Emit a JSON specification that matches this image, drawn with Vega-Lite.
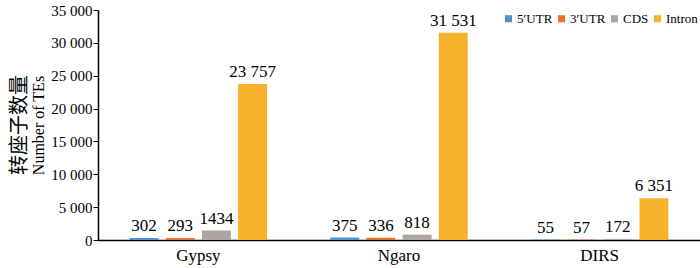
{
  "$schema": "https://vega.github.io/schema/vega-lite/v6.json",
  "width": 602,
  "height": 230,
  "autosize": "none",
  "padding": {"left": 98, "top": 10, "right": 0, "bottom": 28},
  "background": "white",
  "title": {"text": "转座子数量", "orient": "left", "anchor": "middle", "fontSize": 20, "font": "Noto Sans CJK SC", "fontWeight": "normal", "color": "black", "offset": 1},
  "config": {
    "view": {"stroke": null},
    "font": "Liberation Serif"
  },
  "data": {
    "values": [
      {"family": "Gypsy", "region": "5′UTR", "count": 302, "label": "302"},
      {"family": "Gypsy", "region": "3′UTR", "count": 293, "label": "293"},
      {"family": "Gypsy", "region": "CDS", "count": 1434, "label": "1434"},
      {"family": "Gypsy", "region": "Intron", "count": 23757, "label": "23 757"},
      {"family": "Ngaro", "region": "5′UTR", "count": 375, "label": "375"},
      {"family": "Ngaro", "region": "3′UTR", "count": 336, "label": "336"},
      {"family": "Ngaro", "region": "CDS", "count": 818, "label": "818"},
      {"family": "Ngaro", "region": "Intron", "count": 31531, "label": "31 531"},
      {"family": "DIRS", "region": "5′UTR", "count": 55, "label": "55"},
      {"family": "DIRS", "region": "3′UTR", "count": 57, "label": "57"},
      {"family": "DIRS", "region": "CDS", "count": 172, "label": "172"},
      {"family": "DIRS", "region": "Intron", "count": 6351, "label": "6 351"}
    ]
  },
  "encoding": {
    "x": {
      "field": "family", "type": "nominal", "sort": ["Gypsy", "Ngaro", "DIRS"],
      "scale": {"paddingInner": 0.315, "paddingOuter": 0.1575},
      "axis": {"title": null, "labelAngle": 0, "ticks": false, "domainColor": "black", "domainWidth": 1.5, "labelFont": "Liberation Serif", "labelFontSize": 17, "labelColor": "black", "labelPadding": 7}
    },
    "xOffset": {
      "field": "region", "type": "nominal", "sort": ["5′UTR", "3′UTR", "CDS", "Intron"],
      "scale": {"paddingInner": 0.2, "paddingOuter": 0}
    },
    "y": {
      "field": "count", "type": "quantitative",
      "scale": {"domain": [0, 35000], "nice": false},
      "axis": {"title": "Number of TEs", "titleFont": "Liberation Serif", "titleFontSize": 16, "titleFontWeight": "normal", "titleColor": "black", "titlePadding": 4, "values": [0, 5000, 10000, 15000, 20000, 25000, 30000, 35000], "labelExpr": "replace(format(datum.value, ',d'), ',', ' ')", "grid": false, "labelFont": "Liberation Serif", "labelFontSize": 15, "labelColor": "black", "tickColor": "black", "tickSize": 5, "domainColor": "black", "domainWidth": 1.5, "labelPadding": 1}
    }
  },
  "layer": [
    {
      "mark": {"type": "bar"},
      "encoding": {
        "color": {
          "field": "region", "type": "nominal", "sort": ["5′UTR", "3′UTR", "CDS", "Intron"],
          "scale": {"domain": ["5′UTR", "3′UTR", "CDS", "Intron"], "range": ["#4f93cf", "#e8702a", "#aca5a1", "#f7b22d"]},
          "legend": {"title": null, "orient": "top-right", "direction": "horizontal", "offset": 0, "symbolType": "square", "symbolSize": 50, "labelFont": "Liberation Serif", "labelFontSize": 13, "labelColor": "black", "columnPadding": 2, "symbolOffset": 0, "labelOffset": 2, "padding": 2}
        }
      }
    },
    {
      "mark": {"type": "text", "baseline": "bottom", "dy": -3, "fontSize": 17, "font": "Liberation Serif", "color": "black"},
      "encoding": {
        "text": {"field": "label"}
      }
    }
  ]
}
